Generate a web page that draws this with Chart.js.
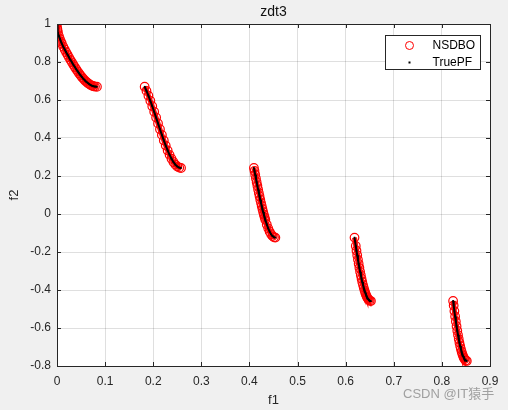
<!DOCTYPE html>
<html>
<head>
<meta charset="utf-8">
<script src="https://cdn.jsdelivr.net/npm/chart.js@4"></script>
<style>
  html, body { margin: 0; padding: 0; background: #f0f0f0; }
  #wrap { width: 508px; height: 410px; }
</style>
</head>
<body>
<div id="wrap"><canvas id="chart" width="508" height="410"></canvas></div>
<script>
// Pareto front segments (f1, f2)
const seg1F1 = [0, 0.0005, 0.001, 0.002, 0.004, 0.006, 0.008, 0.010, 0.013, 0.016, 0.019, 0.022, 0.025, 0.028, 0.031, 0.034, 0.037, 0.040, 0.043, 0.046, 0.049, 0.052, 0.055, 0.058, 0.061, 0.064, 0.067, 0.070, 0.073, 0.076, 0.079, 0.083];
const seg1F2 = [1, 0.9776, 0.9684, 0.9552, 0.9363, 0.9214, 0.9086, 0.8969, 0.8808, 0.8658, 0.8515, 0.8377, 0.8242, 0.8111, 0.7983, 0.7858, 0.7737, 0.7620, 0.7507, 0.7399, 0.7297, 0.7201, 0.7112, 0.7030, 0.6956, 0.6891, 0.6835, 0.6788, 0.6751, 0.6723, 0.6705, 0.6697];

const seg2F1 = [0.1822, 0.186, 0.190, 0.194, 0.198, 0.202, 0.206, 0.210, 0.214, 0.218, 0.222, 0.226, 0.230, 0.234, 0.238, 0.242, 0.246, 0.250, 0.254, 0.2578];
const seg2F2 = [0.6698, 0.6479, 0.6228, 0.5959, 0.5675, 0.5379, 0.5075, 0.4769, 0.4463, 0.4163, 0.3873, 0.3599, 0.3344, 0.3112, 0.2909, 0.2737, 0.2600, 0.2500, 0.2440, 0.2422];

const seg3F1 = [0.4093, 0.4105, 0.412, 0.4135, 0.415, 0.4165, 0.418, 0.4195, 0.421, 0.4225, 0.424, 0.4255, 0.427, 0.4285, 0.430, 0.4315, 0.433, 0.436, 0.439, 0.442, 0.445, 0.448, 0.451, 0.4539];
const seg3F2 = [0.2424, 0.2263, 0.2065, 0.1868, 0.1674, 0.1483, 0.1295, 0.1111, 0.0931, 0.0756, 0.0586, 0.0421, 0.0263, 0.0110, -0.0036, -0.0175, -0.0307, -0.0548, -0.0756, -0.0929, -0.1066, -0.1165, -0.1224, -0.1242];

const seg4F1 = [0.6184, 0.621, 0.6225, 0.624, 0.6255, 0.627, 0.6285, 0.630, 0.6315, 0.633, 0.6345, 0.636, 0.6375, 0.639, 0.6405, 0.642, 0.6435, 0.645, 0.6465, 0.648, 0.650, 0.6525];
const seg4F2 = [-0.1242, -0.1687, -0.1933, -0.2171, -0.2401, -0.2622, -0.2833, -0.3034, -0.3224, -0.3405, -0.3573, -0.3730, -0.3874, -0.4006, -0.4125, -0.4231, -0.4324, -0.4402, -0.4467, -0.4517, -0.4562, -0.4583];

const seg5F1 = [0.8233, 0.8245, 0.826, 0.8275, 0.829, 0.8305, 0.832, 0.8335, 0.835, 0.8365, 0.838, 0.8395, 0.841, 0.8425, 0.844, 0.8455, 0.847, 0.8495, 0.8518];
const seg5F2 = [-0.4576, -0.4818, -0.5110, -0.5389, -0.5655, -0.5908, -0.6146, -0.6370, -0.6578, -0.6770, -0.6946, -0.7105, -0.7247, -0.7371, -0.7477, -0.7566, -0.7636, -0.7711, -0.7734];

const xTicks = [0, 0.1, 0.2, 0.3, 0.4, 0.5, 0.6, 0.7, 0.8, 0.9];
const yTicks = [-0.8, -0.6, -0.4, -0.2, 0, 0.2, 0.4, 0.6, 0.8, 1];
const xTickLabels = ['0', '0.1', '0.2', '0.3', '0.4', '0.5', '0.6', '0.7', '0.8', '0.9'];
const yTickLabels = ['-0.8', '-0.6', '-0.4', '-0.2', '0', '0.2', '0.4', '0.6', '0.8', '1'];

const seriesNames = ['NSDBO', 'TruePF'];
const titleText = 'zdt3';

const FONT = '"Liberation Sans", Arial, Helvetica, sans-serif';
const AXIS_COLOR = '#262626';

const segments = [
  [seg1F1, seg1F2], [seg2F1, seg2F2], [seg3F1, seg3F2], [seg4F1, seg4F2], [seg5F1, seg5F2]
];
const toPoints = (xs, ys) => xs.map((x, i) => ({ x: x, y: ys[i] }));

const datasets = [];
segments.forEach(([xs, ys]) => {
  datasets.push({
    label: seriesNames[0],
    data: toPoints(xs, ys),
    showLine: true,
    borderColor: '#ff1010',
    borderWidth: 5,
    pointStyle: 'circle',
    pointRadius: 4.3,
    pointBorderWidth: 1.2,
    pointBorderColor: '#ff0000',
    pointBackgroundColor: 'rgba(0,0,0,0)',
    order: 1
  });
  datasets.push({
    label: seriesNames[1],
    data: toPoints(xs, ys),
    showLine: true,
    borderColor: '#000000',
    borderWidth: 2,
    pointStyle: 'rect',
    pointRadius: 1.2,
    pointBorderWidth: 0,
    pointBackgroundColor: '#000000',
    order: 0
  });
});

// figure background, white axes, frame, inward tick marks, title, legend box
const matlabLook = {
  id: 'matlabLook',
  beforeDraw(chart) {
    const { ctx, chartArea: a } = chart;
    ctx.save();
    ctx.fillStyle = '#f0f0f0';
    ctx.fillRect(0, 0, chart.width, chart.height);
    ctx.fillStyle = '#ffffff';
    ctx.fillRect(a.left, a.top, a.right - a.left, a.bottom - a.top);
    ctx.restore();
  },
  afterDraw(chart) {
    const { ctx, chartArea: a, scales } = chart;
    ctx.save();
    ctx.strokeStyle = AXIS_COLOR;
    ctx.lineWidth = 1;
    ctx.beginPath();
    const tl = 4;
    xTicks.forEach(v => {
      const px = Math.round(scales.x.getPixelForValue(v)) + 0.5;
      ctx.moveTo(px, a.bottom); ctx.lineTo(px, a.bottom - tl);
      ctx.moveTo(px, a.top); ctx.lineTo(px, a.top + tl);
    });
    yTicks.forEach(v => {
      const py = Math.round(scales.y.getPixelForValue(v)) + 0.5;
      ctx.moveTo(a.left, py); ctx.lineTo(a.left + tl, py);
      ctx.moveTo(a.right, py); ctx.lineTo(a.right - tl, py);
    });
    ctx.stroke();
    ctx.strokeRect(Math.round(a.left) + 0.5, Math.round(a.top) + 0.5,
      Math.round(a.right - a.left), Math.round(a.bottom - a.top));

    // title
    ctx.fillStyle = '#111111';
    ctx.font = '14px ' + FONT;
    ctx.textAlign = 'center';
    ctx.textBaseline = 'middle';
    ctx.fillText(titleText, (a.left + a.right) / 2, 12.5);

    // legend
    const lx = 385.5, ly = 35.5, lw = 95, lh = 34;
    ctx.fillStyle = '#ffffff';
    ctx.fillRect(lx, ly, lw, lh);
    ctx.strokeStyle = AXIS_COLOR;
    ctx.strokeRect(lx, ly, lw, lh);
    ctx.beginPath();
    ctx.strokeStyle = '#ff0000';
    ctx.arc(409.5, 45.5, 4, 0, Math.PI * 2);
    ctx.stroke();
    ctx.fillStyle = '#000000';
    ctx.fillRect(408.5, 61.5, 2, 2);
    ctx.font = '12px ' + FONT;
    ctx.textAlign = 'left';
    ctx.fillText(seriesNames[0], 432.5, 46);
    ctx.fillText(seriesNames[1], 432.5, 62.5);

    // watermark
    ctx.fillStyle = '#a0a0a0';
    ctx.font = '13px ' + FONT + ', "Noto Sans CJK SC"';
    ctx.fillText('CSDN @IT猿手', 403, 394);
    ctx.restore();
  }
};

new Chart(document.getElementById('chart'), {
  type: 'scatter',
  data: { datasets: datasets },
  plugins: [matlabLook],
  options: {
    responsive: false,
    animation: false,
    devicePixelRatio: 1,
    layout: { padding: { left: 0, top: 24, right: 18, bottom: 0 } },
    plugins: {
      legend: { display: false },
      tooltip: { enabled: false },
      title: { display: false }
    },
    scales: {
      x: {
        type: 'linear',
        position: 'bottom',
        min: 0,
        max: 0.9,
        afterBuildTicks: s => { s.ticks = xTicks.map(v => ({ value: v })); },
        afterFit: s => { s.height = 44; },
        grid: { color: 'rgba(38,38,38,0.15)', drawTicks: false },
        border: { display: false },
        ticks: {
          padding: 8,
          color: AXIS_COLOR,
          font: { family: FONT, size: 12 },
          maxRotation: 0,
          autoSkip: false,
          callback: v => xTickLabels[xTicks.findIndex(t => Math.abs(t - v) < 1e-9)]
        },
        title: {
          display: true,
          text: 'f1',
          color: AXIS_COLOR,
          font: { family: FONT, size: 13 },
          padding: { top: 0, bottom: 2 }
        }
      },
      y: {
        type: 'linear',
        position: 'left',
        min: -0.8,
        max: 1,
        afterBuildTicks: s => { s.ticks = yTicks.map(v => ({ value: v })); },
        afterFit: s => { s.width = 57; },
        grid: { color: 'rgba(38,38,38,0.15)', drawTicks: false },
        border: { display: false },
        ticks: {
          padding: 6,
          color: AXIS_COLOR,
          font: { family: FONT, size: 12 },
          autoSkip: false,
          callback: v => yTickLabels[yTicks.findIndex(t => Math.abs(t - v) < 1e-9)]
        },
        title: {
          display: true,
          text: 'f2',
          color: AXIS_COLOR,
          font: { family: FONT, size: 13 },
          padding: { top: 7, bottom: 0 }
        }
      }
    }
  }
});
</script>
</body>
</html>
